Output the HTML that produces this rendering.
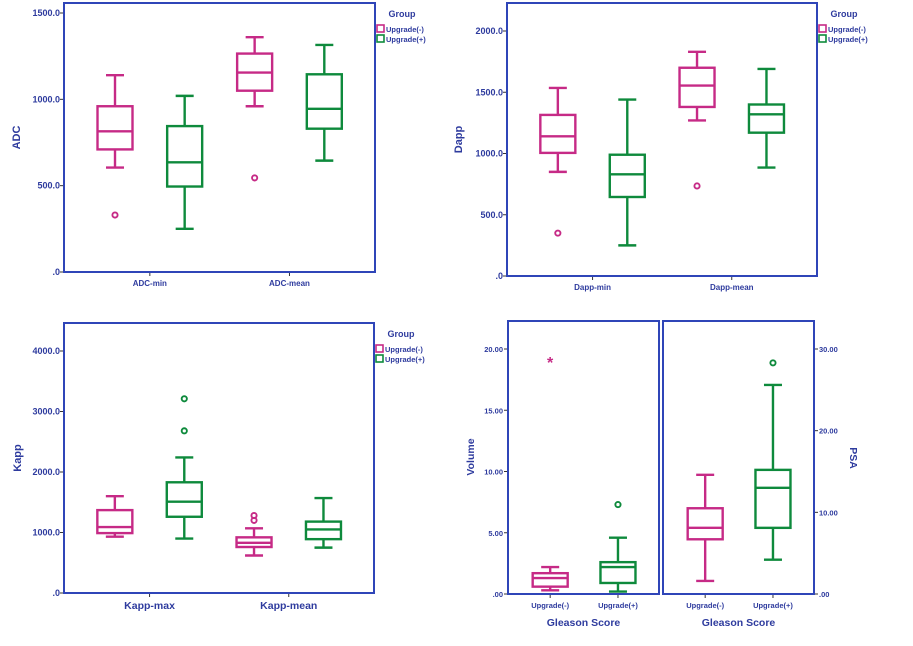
<!DOCTYPE html>
<html><head><meta charset="utf-8"><style>
html,body{margin:0;padding:0;background:#fff}
svg text{font-family:"Liberation Sans",Arial,sans-serif;font-weight:bold;fill:#2e3b9e}
</style></head><body>
<svg id="chart" width="913" height="641" viewBox="0 0 913 641" xmlns="http://www.w3.org/2000/svg"></svg>
<script>
// ---- Data (each box: [lowWhisker, q1, median, q3, highWhisker]) ----
const adcCategories = ["ADC-min", "ADC-mean"];
const adcNeg = [[605, 710, 815, 960, 1140], [960, 1050, 1155, 1265, 1360]];
const adcPos = [[250, 495, 635, 845, 1020], [645, 830, 945, 1145, 1315]];
const adcNegOut = [[330], [545]];
const adcPosOut = [[], []];
const adcTicks = [0, 500, 1000, 1500];

const dappCategories = ["Dapp-min", "Dapp-mean"];
const dappNeg = [[850, 1005, 1140, 1315, 1535], [1270, 1380, 1555, 1700, 1830]];
const dappPos = [[250, 645, 830, 990, 1440], [885, 1170, 1320, 1400, 1690]];
const dappNegOut = [[350], [735]];
const dappPosOut = [[], []];
const dappTicks = [0, 500, 1000, 1500, 2000];

const kappCategories = ["Kapp-max", "Kapp-mean"];
const kappNeg = [[930, 990, 1090, 1370, 1600], [620, 760, 830, 920, 1070]];
const kappPos = [[900, 1260, 1510, 1830, 2240], [750, 890, 1050, 1180, 1570]];
const kappNegOut = [[], [1200, 1280]];
const kappPosOut = [[2680, 3210], []];
const kappTicks = [0, 1000, 2000, 3000, 4000];

const gleasonCategories = ["Upgrade(-)", "Upgrade(+)"];
const volumeBoxes = [[0.3, 0.6, 1.3, 1.7, 2.2], [0.2, 0.9, 2.2, 2.6, 4.6]];
const volumeStars = [[19.1], []];
const volumeOut = [[], [7.3]];
const volumeTicks = [0, 5, 10, 15, 20];
const psaBoxes = [[1.6, 6.7, 8.1, 10.5, 14.6], [4.2, 8.1, 13.0, 15.2, 25.6]];
const psaOut = [[], [28.3]];
const psaTicks = [0, 10, 20, 30];

const PINK = "#c62a86", GREEN = "#0e8a3c", BLUE = "#2f45b8";
const svg = document.getElementById("chart");
const NS = "http://www.w3.org/2000/svg";
function mk(tag, attrs, parent) {
  const e = document.createElementNS(NS, tag);
  for (const k in attrs) e.setAttribute(k, attrs[k]);
  (parent || svg).appendChild(e);
  return e;
}
function txt(s, attrs, parent) { const t = mk("text", attrs, parent); t.textContent = s; return t; }
function linScale(d0, d1, r0, r1) { return v => r0 + (v - d0) * (r1 - r0) / (d1 - d0); }
// band scale: category index -> x center (SPSS-style inset positions)
function catScale(x0, x1, n) { return i => x0 + (x1 - x0) * (0.276 + i * 0.449 / Math.max(1, n - 1)); }

function drawBox(g, cx, w, stats, y, color, name) {
  const bg = mk("g", {}, g);
  
  
  const [lo, q1, md, q3, hi] = stats.map(y);
  const st = {stroke: color, "stroke-width": 2.4, fill: "none"};
  mk("line", Object.assign({x1: cx, x2: cx, y1: hi, y2: q3}, st), bg);
  mk("line", Object.assign({x1: cx, x2: cx, y1: q1, y2: lo}, st), bg);
  mk("line", Object.assign({x1: cx - 9, x2: cx + 9, y1: hi, y2: hi}, st), bg);
  mk("line", Object.assign({x1: cx - 9, x2: cx + 9, y1: lo, y2: lo}, st), bg);
  mk("rect", Object.assign({x: cx - w / 2, y: q3, width: w, height: q1 - q3}, st), bg);
  mk("line", Object.assign({x1: cx - w / 2, x2: cx + w / 2, y1: md, y2: md}, st), bg);
}
function drawOutliers(g, cx, vals, y, color, name) {
  vals.forEach(v => {
    const c = mk("circle", {cx: cx, cy: y(v), r: 2.6, fill: "none", stroke: color, "stroke-width": 1.9}, g);
    
    
  });
}
function drawStars(g, cx, vals, y, color) {
  vals.forEach(v => {
    const s = txt("*", {x: cx, y: y(v) + 8, "text-anchor": "middle", "font-size": 16}, g);
    s.style.fill = color;
    
    
  });
}
function legend(g, x, y) {
  const lg = mk("g", {}, g);
  
  
  txt("Group", {x: x + 26, y: y + 3, "font-size": 9, "text-anchor": "middle"}, lg);
  [[PINK, "Upgrade(-)", 'legend-entry-upgrade-neg'], [GREEN, "Upgrade(+)", 'legend-entry-upgrade-pos']].forEach((it, i) => {
    const e = mk("g", {}, lg);
    
    
    mk("rect", {x: x + 1, y: y + 11 + i * 10, width: 7, height: 7, fill: "none", stroke: it[0], "stroke-width": 1.6}, e);
    txt(it[1], {x: x + 10, y: y + 18 + i * 10, "font-size": 7.5}, e);
  });
}

function groupedPanel(p) {
  const g = mk("g", {});
  
  
  const y = linScale(0, p.tickMax, p.y0, p.yTop);
  const xc = catScale(p.x0, p.x1, p.cats.length);
  const off = (p.x1 - p.x0) * 0.112;
  p.ticks.forEach(t => {
    mk("line", {x1: p.x0 - 4, x2: p.x0, y1: y(t), y2: y(t), stroke: "#333", "stroke-width": 1}, g);
    const lab = txt(t === 0 ? ".0" : t.toFixed(1), {x: p.x0 - 4, y: y(t) + 3, "font-size": 9, "text-anchor": "end"}, g);
    
    
  });
  p.cats.forEach((c, i) => {
    const cx = xc(i);
    mk("line", {x1: cx, x2: cx, y1: p.y0, y2: p.y0 + 4, stroke: "#333", "stroke-width": 1}, g);
    const lab = txt(c, {x: cx, y: p.y0 + p.catDy, "font-size": p.catFs, "text-anchor": "middle"}, g);
    
    
    drawBox(g, cx - off, 35, p.neg[i], y, PINK, 'box-upgrade-neg-' + c.toLowerCase());
    drawBox(g, cx + off, 35, p.pos[i], y, GREEN, 'box-upgrade-pos-' + c.toLowerCase());
    drawOutliers(g, cx - off, p.negOut[i], y, PINK, 'outlier-upgrade-neg');
    drawOutliers(g, cx + off, p.posOut[i], y, GREEN, 'outlier-upgrade-pos');
  });
  mk("rect", {x: p.x0, y: p.frameTop, width: p.x1 - p.x0, height: p.y0 - p.frameTop, fill: "none", stroke: BLUE, "stroke-width": 2}, g);
  const yt = txt(p.title, {x: 0, y: 0, "font-size": 11, "text-anchor": "middle", transform: `translate(${p.titleX},${(p.frameTop + p.y0) / 2}) rotate(-90)`}, g);
  
  
  legend(g, p.x1 + 1, p.frameTop + 11);
}

groupedPanel({name: "adc-panel", cats: adcCategories, neg: adcNeg, pos: adcPos, negOut: adcNegOut, posOut: adcPosOut,
  ticks: adcTicks, tickMax: 1500, x0: 64, x1: 375, y0: 272, yTop: 13, frameTop: 3, title: "ADC", titleX: 20, catDy: 14, catFs: 8});
groupedPanel({name: "dapp-panel", cats: dappCategories, neg: dappNeg, pos: dappPos, negOut: dappNegOut, posOut: dappPosOut,
  ticks: dappTicks, tickMax: 2000, x0: 507, x1: 817, y0: 276, yTop: 31, frameTop: 3, title: "Dapp", titleX: 462, catDy: 14, catFs: 8});
groupedPanel({name: "kapp-panel", cats: kappCategories, neg: kappNeg, pos: kappPos, negOut: kappNegOut, posOut: kappPosOut,
  ticks: kappTicks, tickMax: 4000, x0: 64, x1: 374, y0: 593, yTop: 351, frameTop: 323, title: "Kapp", titleX: 21, catDy: 16, catFs: 10.5});

// ---- Gleason panels ----
(function () {
  const g = mk("g", {});
  
  
  const y0 = 594, yTop = 349, top = 321;
  const yv = linScale(0, 20, y0, yTop);
  const yp = linScale(0, 30, y0, yTop);
  const panes = [{x0: 508, x1: 659, boxes: volumeBoxes, out: volumeOut, stars: volumeStars, y: yv},
                 {x0: 663, x1: 814, boxes: psaBoxes, out: psaOut, stars: [[], []], y: yp}];
  volumeTicks.forEach(t => {
    mk("line", {x1: 504, x2: 508, y1: yv(t), y2: yv(t), stroke: "#333"}, g);
    const l = txt(t === 0 ? ".00" : t.toFixed(2), {x: 503, y: yv(t) + 3, "font-size": 7.5, "text-anchor": "end"}, g);
    
    
  });
  psaTicks.forEach(t => {
    mk("line", {x1: 814, x2: 818, y1: yp(t), y2: yp(t), stroke: "#333"}, g);
    const l = txt(t === 0 ? ".00" : t.toFixed(2), {x: 819, y: yp(t) + 3, "font-size": 7.5}, g);
    
    
  });
  panes.forEach((p, pi) => {
    const xc = catScale(p.x0, p.x1, 2);
    gleasonCategories.forEach((c, i) => {
      const cx = xc(i) + 0.5;
      mk("line", {x1: cx, x2: cx, y1: y0, y2: y0 + 4, stroke: "#333"}, g);
      const l = txt(c, {x: cx, y: y0 + 14, "font-size": 7.5, "text-anchor": "middle"}, g);
      
      
      const col = i === 0 ? PINK : GREEN;
      drawBox(g, cx, 35, p.boxes[i], p.y, col, (pi === 0 ? 'volume' : 'psa') + '-box-' + (i === 0 ? 'neg' : 'pos'));
      drawOutliers(g, cx, p.out[i], p.y, col, 'outlier');
      drawStars(g, cx, p.stars[i], p.y, col);
    });
    mk("rect", {x: p.x0, y: top, width: p.x1 - p.x0, height: y0 - top, fill: "none", stroke: BLUE, "stroke-width": 2}, g);
    const t = txt("Gleason Score", {x: (p.x0 + p.x1) / 2, y: 626, "font-size": 10.5, "text-anchor": "middle"}, g);
    
    
  });
  const vt = txt("Volume", {x: 0, y: 0, "font-size": 10.5, "text-anchor": "middle", transform: "translate(474,457) rotate(-90)"}, g);
  
  
  const pt = txt("PSA", {x: 0, y: 0, "font-size": 10.5, "text-anchor": "middle", transform: "translate(850,458) rotate(90)"}, g);
  
  
})();
</script>
</body></html>
